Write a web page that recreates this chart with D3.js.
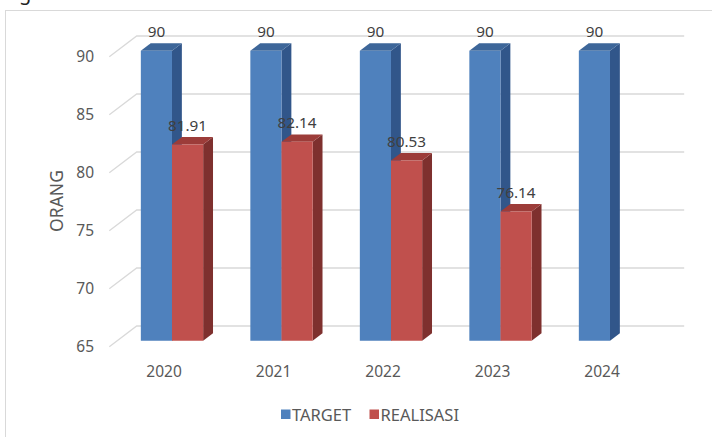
<!DOCTYPE html>
<html>
<head>
<meta charset="utf-8">
<script src="https://cdn.jsdelivr.net/npm/d3@7"></script>
<style>
  html, body { margin: 0; padding: 0; background: #fff; }
  svg { display: block; font-family: "Noto Sans", "Open Sans", sans-serif; }
</style>
</head>
<body>
<svg id="chart" width="712" height="437"></svg>
<script>
// Data
const years = ["2020", "2021", "2022", "2023", "2024"];
const target = [90, 90, 90, 90, 90];
const realisasi = [81.91, 82.14, 80.53, 76.14, null];
const seriesNames = ["TARGET", "REALISASI"];
const yTicks = [65, 70, 75, 80, 85, 90];

const svg = d3.select("#chart");

// Frame around the chart area
svg.append("rect")
  .attr("x", 5.5).attr("y", 10.5)
  .attr("width", 720).attr("height", 440)
  .attr("fill", "#fff").attr("stroke", "#d9d9d9").attr("stroke-width", 1);

// Tail of a heading glyph sitting above the frame
svg.append("text")
  .attr("x", 19).attr("y", -0.5)
  .attr("font-size", 20).attr("fill", "#222")
  .text("g");

// 3D projection: depth d in [0,1] shifts right and up
const DEPTH = { dx: 27.4, dy: -20.7 };
const barD0 = 0.29, barD1 = 0.65;

const x = d3.scaleBand()
  .domain(years)
  .range([109.3, 656.8])
  .paddingInner(0.431)
  .paddingOuter(0.2155);

const xs = d3.scaleBand()
  .domain(seriesNames)
  .range([0, x.bandwidth()])
  .padding(0);

const y = d3.scaleLinear()
  .domain([65, 90])
  .range([346.7, 56.7]);

const P = (px, v, d) => [px + DEPTH.dx * d, y(v) + DEPTH.dy * d];
const poly = pts => "M" + pts.map(p => p.join(",")).join("L") + "Z";

// Back wall gridlines with the side-wall diagonal
const grid = svg.append("g");
yTicks.forEach(t => {
  const a = P(x.range()[0], t, 0);
  const b = P(x.range()[0], t, 1);
  const c = P(x.range()[1], t, 1);
  grid.append("path")
    .attr("d", `M${a}L${b}L${c}`)
    .attr("fill", "none")
    .attr("stroke", "#d9d9d9")
    .attr("stroke-width", 1.3);
});

// Y tick labels
svg.append("g").selectAll("text")
  .data(yTicks)
  .join("text")
  .attr("x", 94)
  .attr("y", d => y(d))
  .attr("dy", "0.35em")
  .attr("text-anchor", "end")
  .attr("font-size", 15.5)
  .attr("fill", "#595959")
  .text(d => d);

// Axis title
svg.append("text")
  .attr("transform", "translate(63,201) rotate(-90)")
  .attr("text-anchor", "middle")
  .attr("font-size", 17.5)
  .attr("fill", "#595959")
  .text("ORANG");

// Category labels
svg.append("g").selectAll("text")
  .data(years)
  .join("text")
  .attr("x", d => x(d) + x.bandwidth() / 2)
  .attr("y", 377)
  .attr("text-anchor", "middle")
  .attr("font-size", 15.5)
  .attr("fill", "#595959")
  .text(d => d);

// Bars
const palette = {
  TARGET:    { front: "#4f81bd", side: "#31568a", top: "#3d6699" },
  REALISASI: { front: "#c0504d", side: "#7e302e", top: "#9c3c39" }
};

const bars = [];
years.forEach((yr, i) => {
  [[seriesNames[0], target[i]], [seriesNames[1], realisasi[i]]].forEach(([s, v]) => {
    if (v == null) return;
    bars.push({ year: yr, series: s, value: v });
  });
});

const barG = svg.append("g");
bars.forEach(b => {
  const x0 = x(b.year) + xs(b.series);
  const x1 = x0 + xs.bandwidth();
  const c = palette[b.series];
  const g = barG.append("g");
  // right side face
  g.append("path")
    .attr("d", poly([P(x1, 65, barD0), P(x1, 65, barD1), P(x1, b.value, barD1), P(x1, b.value, barD0)]))
    .attr("fill", c.side);
  // top face
  g.append("path")
    .attr("d", poly([P(x0, b.value, barD0), P(x1, b.value, barD0), P(x1, b.value, barD1), P(x0, b.value, barD1)]))
    .attr("fill", c.top);
  // front face
  g.append("path")
    .attr("d", poly([P(x0, 65, barD0), P(x1, 65, barD0), P(x1, b.value, barD0), P(x0, b.value, barD0)]))
    .attr("fill", c.front);
});

// Value labels
svg.append("g").selectAll("text")
  .data(bars)
  .join("text")
  .attr("x", d => {
    const x0 = x(d.year) + xs(d.series);
    return P(x0 + xs.bandwidth() / 2, d.value, barD0)[0];
  })
  .attr("y", d => P(0, d.value, barD1)[1] - 6.5)
  .attr("text-anchor", "middle")
  .attr("font-size", 15.3)
  .attr("fill", "#404040")
  .text(d => d.value);

// Legend
const legend = svg.append("g");
const legendItems = [
  { name: seriesNames[0], color: palette.TARGET.front, x: 281 },
  { name: seriesNames[1], color: palette.REALISASI.front, x: 369.5 }
];
legendItems.forEach(it => {
  legend.append("rect")
    .attr("x", it.x).attr("y", 409.5)
    .attr("width", 9.5).attr("height", 9.5)
    .attr("fill", it.color);
  legend.append("text")
    .attr("x", it.x + 11).attr("y", 421)
    .attr("font-size", 16.5)
    .attr("fill", "#595959")
    .text(it.name);
});
</script>
</body>
</html>
